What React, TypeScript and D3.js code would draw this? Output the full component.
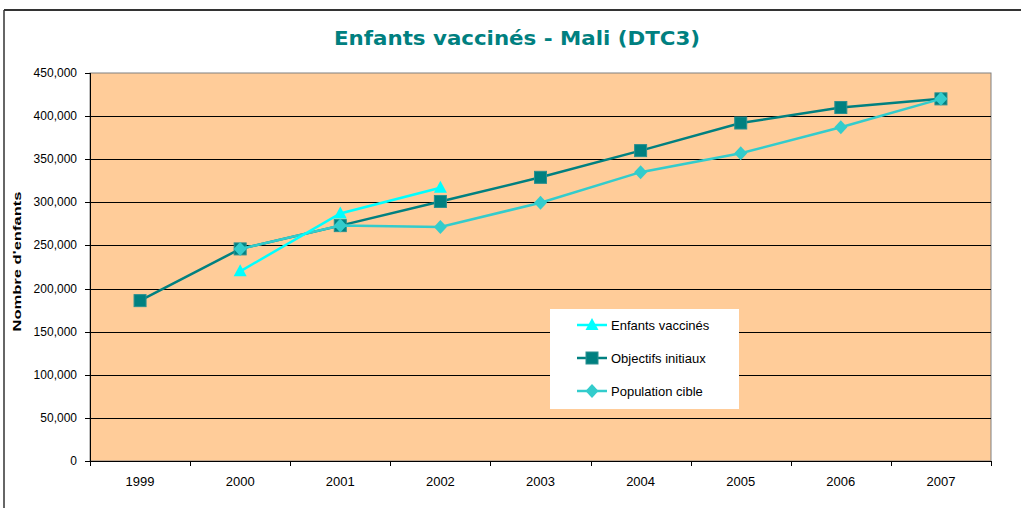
import React from "react";
import * as d3 from "d3";

const years = ["1999", "2000", "2001", "2002", "2003", "2004", "2005", "2006", "2007"];
const enfantsVaccines: (number | null)[] = [null, 220000, 287000, 317000, null, null, null, null, null];
const objectifsInitiaux: (number | null)[] = [186000, 246000, 273000, 301000, 329000, 360000, 392000, 410000, 420000];
const populationCible: (number | null)[] = [null, 246000, 273000, 271500, 299500, 335000, 357000, 387000, 420000];
const yTicks = [0, 50000, 100000, 150000, 200000, 250000, 300000, 350000, 400000, 450000];

const W = 1021, H = 508;
const plot = { left: 90, right: 991, top: 73, bottom: 461 };

export default function App() {
  const x = d3.scaleBand().domain(years).range([plot.left, plot.right]);
  const y = d3.scaleLinear().domain([0, 450000]).range([plot.bottom, plot.top]);
  const cx = (yr: string) => (x(yr) as number) + x.bandwidth() / 2;
  const fmt = d3.format(",");

  const lineGen = d3
    .line<[string, number | null]>()
    .defined((d) => d[1] !== null)
    .x((d) => cx(d[0]))
    .y((d) => y(d[1] as number));

  const pts = (vals: (number | null)[]) => years.map((yr, i) => [yr, vals[i]] as [string, number | null]);

  const series = [
    { name: "Objectifs initiaux", vals: objectifsInitiaux, color: "#008080", marker: "square" },
    { name: "Population cible", vals: populationCible, color: "#33CCCC", marker: "diamond" },
    { name: "Enfants vaccinés", vals: enfantsVaccines, color: "#00FFFF", marker: "triangle" },
  ];
  const legendOrder = [series[2], series[0], series[1]];

  const marker = (type: string, color: string, px: number, py: number, key: string) => {
    if (type === "square")
      return <rect key={key} x={px - 6} y={py - 6} width={12} height={12} fill={color} stroke="#2a9090" strokeWidth={1} />;
    if (type === "diamond")
      return <path key={key} d={`M${px},${py - 7}L${px + 6.5},${py}L${px},${py + 7}L${px - 6.5},${py}Z`} fill={color} />;
    return <path key={key} d={`M${px},${py - 7}L${px + 6.5},${py + 5}L${px - 6.5},${py + 5}Z`} fill={color} />;
  };

  const bandStarts = years.map((yr) => x(yr) as number).concat([plot.right]);

  return (
    <svg width={W} height={H} style={{ position: "absolute", left: 0, top: 0 }} fontFamily="'Liberation Sans', Arial, sans-serif">
      <rect x={0} y={0} width={W} height={H} fill="#fff" />
      {/* chart frame */}
      <line x1={4} y1={10} x2={W} y2={10} stroke="#333" strokeWidth={2} />
      <line x1={4} y1={10} x2={4} y2={H} stroke="#333" strokeWidth={1.5} />
      {/* title */}
      <text x={517} y={45} textAnchor="middle" fontFamily="'DejaVu Sans Condensed', 'DejaVu Sans', sans-serif" fontWeight="bold" fontSize={20} fill="#008080" textLength={366} lengthAdjust="spacingAndGlyphs">
        Enfants vaccinés - Mali (DTC3)
      </text>
      {/* plot area */}
      <rect x={plot.left} y={plot.top} width={plot.right - plot.left} height={plot.bottom - plot.top} fill="#FFCC99" stroke="#808080" strokeWidth={1} />
      {yTicks.filter((t) => t > 0 && t < 450000).map((t) => (
        <line key={t} x1={plot.left} x2={plot.right} y1={Math.round(y(t)) + 0.5} y2={Math.round(y(t)) + 0.5} stroke="#000" strokeWidth={1} />
      ))}
      {/* y axis */}
      <line x1={plot.left + 0.5} x2={plot.left + 0.5} y1={plot.top} y2={plot.bottom} stroke="#000" />
      {yTicks.map((t) => (
        <g key={t}>
          <line x1={plot.left - 5} x2={plot.left} y1={Math.round(y(t)) + 0.5} y2={Math.round(y(t)) + 0.5} stroke="#000" />
          <text x={plot.left - 13} y={y(t) + 4} textAnchor="end" fontSize={12} fill="#000">{fmt(t)}</text>
        </g>
      ))}
      <text transform={`translate(21,${(190 + 333) / 2}) rotate(-90)`} textAnchor="middle" fontSize={11} fontWeight="bold" textLength={140} lengthAdjust="spacingAndGlyphs">
        Nombre d'enfants
      </text>
      {/* x axis */}
      <line x1={plot.left} x2={plot.right} y1={plot.bottom + 0.5} y2={plot.bottom + 0.5} stroke="#000" />
      {bandStarts.map((bx, i) => (
        <line key={i} x1={Math.round(bx) + 0.5} x2={Math.round(bx) + 0.5} y1={plot.bottom} y2={plot.bottom + 5} stroke="#000" />
      ))}
      {years.map((yr) => (
        <text key={yr} x={cx(yr)} y={486} textAnchor="middle" fontSize={13} fill="#000">{yr}</text>
      ))}
      {/* series */}
      {series.map((s) => (
        <g key={s.name}>
          <path d={lineGen(pts(s.vals)) || ""} fill="none" stroke={s.color} strokeWidth={2.5} />
          {pts(s.vals).filter((d) => d[1] !== null).map((d) => marker(s.marker, s.color, cx(d[0]), y(d[1] as number), s.name + d[0]))}
        </g>
      ))}
      {/* legend */}
      <rect x={550} y={309} width={189} height={100} fill="#fff" />
      {legendOrder.map((s, i) => {
        const ly = 325 + i * 33;
        return (
          <g key={s.name}>
            <line x1={577} x2={607} y1={ly} y2={ly} stroke={s.color} strokeWidth={2.5} />
            {marker(s.marker, s.color, 592, ly, "lg" + s.name)}
            <text x={611} y={ly + 4.5} fontSize={13} fill="#000">{s.name}</text>
          </g>
        );
      })}
    </svg>
  );
}
